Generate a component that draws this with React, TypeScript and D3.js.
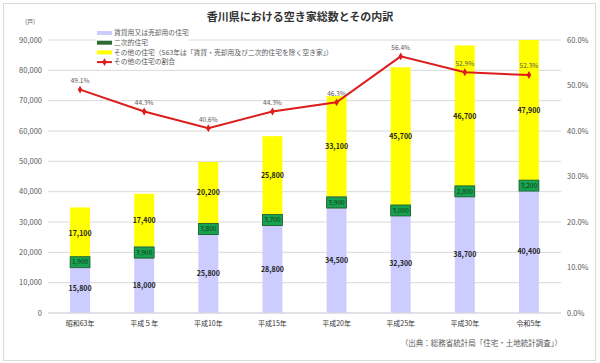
import * as d3 from "d3";

const categories = ["昭和63年", "平成５年", "平成10年", "平成15年", "平成20年", "平成25年", "平成30年", "令和5年"];
const rentalValues = [15800, 18000, 25800, 28800, 34500, 32300, 38700, 40400];
const secondaryValues = [1900, 3900, 3800, 3700, 3900, 3000, 2800, 3200];
const otherValues = [17100, 17400, 20200, 25800, 33100, 45700, 46700, 47900];
const otherRatio = [49.1, 44.3, 40.6, 44.3, 46.3, 56.4, 52.9, 52.3];
const leftTicks = [0, 10000, 20000, 30000, 40000, 50000, 60000, 70000, 80000, 90000];
const rightTicks = [0, 10, 20, 30, 40, 50, 60];
const legendLabels = [
  "賃貸用又は売却用の住宅",
  "二次的住宅",
  "その他の住宅（S63年は「賃貸・売却用及び二次的住宅を除く空き家」）",
  "その他の住宅の割合",
];

const W = 600;
const H = 363;
const margin = { top: 40, right: 39, bottom: 50, left: 48 };
const font = "'Noto Sans CJK JP', 'Noto Sans', sans-serif";

const colors = {
  rental: "#ccccff",
  secondary: "#2e6b35",
  secondaryBox: "#17a34f",
  other: "#ffff00",
  line: "#dd1c1c",
  grid: "#d9d9d9",
  axisText: "#595959",
};

export default function App() {
  const x = d3.scaleBand().domain(categories).range([margin.left, W - margin.right]);
  const y = d3.scaleLinear().domain([0, 90000]).range([H - margin.bottom, margin.top]);
  const yr = d3.scaleLinear().domain([0, 60]).range([H - margin.bottom, margin.top]);
  const barW = x.bandwidth() * 0.31;
  const cx = (c: string) => (x(c) ?? 0) + x.bandwidth() / 2;

  const rows = categories.map((c, i) => {
    const r0 = 0, r1 = rentalValues[i];
    const s1 = r1 + secondaryValues[i];
    const o1 = s1 + otherValues[i];
    return { c, i, r0, r1, s1, o1 };
  });

  const line = d3
    .line<number>()
    .x((_, i) => cx(categories[i]))
    .y((d) => yr(d));

  const fmt = d3.format(",");
  const yTop = margin.top;
  const clipY = (v: number) => Math.max(y(v), yTop);

  return (
    <svg width={W} height={H} style={{ position: "absolute", left: 0, top: 0, background: "#fff" }} fontFamily={font}>
      <rect x={3.5} y={3.5} width={592} height={357} fill="#fff" stroke="#d9d9d9" />
      <text x={300} y={21} textAnchor="middle" fontSize={11} fontWeight={700} fill="#333">
        香川県における空き家総数とその内訳
      </text>
      <text x={30} y={24} textAnchor="middle" fontSize={6} fill={colors.axisText}>(戸)</text>

      {leftTicks.map((t) => (
        <g key={t}>
          <line x1={margin.left} x2={W - margin.right} y1={y(t)} y2={y(t)} stroke={colors.grid} strokeWidth={1} />
          <text x={42} y={y(t)} dy="0.35em" textAnchor="end" fontSize={7.5} fill={colors.axisText}>
            {fmt(t)}
          </text>
        </g>
      ))}
      {rightTicks.map((t) => (
        <text key={t} x={567} y={yr(t)} dy="0.35em" fontSize={7.5} fill={colors.axisText}>
          {t.toFixed(1)}%
        </text>
      ))}

      {/* legend background over the gridline */}
      <rect x={96} y={28} width={93} height={38} fill="#fff" />

      {rows.map((d) => (
        <g key={d.c}>
          <rect x={cx(d.c) - barW / 2} y={y(d.r1)} width={barW} height={y(d.r0) - y(d.r1)} fill={colors.rental} />
          <rect x={cx(d.c) - barW / 2} y={y(d.s1)} width={barW} height={y(d.r1) - y(d.s1)} fill={colors.secondary} />
          <rect x={cx(d.c) - barW / 2} y={clipY(d.o1)} width={barW} height={y(d.s1) - clipY(d.o1)} fill={colors.other} />
        </g>
      ))}

      <line x1={margin.left} x2={W - margin.right} y1={y(0)} y2={y(0)} stroke={colors.grid} />

      {rows.map((d) => {
        const mid = (y(d.r1) + y(d.s1)) / 2;
        return (
          <g key={"lab" + d.c} fontSize={7} fontWeight={700}>
            <text x={cx(d.c)} y={(y(d.r0) + y(d.r1)) / 2} dy="0.35em" textAnchor="middle" fill="#222">
              {fmt(rentalValues[d.i])}
            </text>
            <text x={cx(d.c)} y={(y(d.s1) + clipY(d.o1)) / 2} dy="0.35em" textAnchor="middle" fill="#222">
              {fmt(otherValues[d.i])}
            </text>
            <rect x={cx(d.c) - barW / 2} y={mid - 5.5} width={barW} height={11} fill={colors.secondaryBox} stroke="#1f5a2c" strokeWidth={0.8} />
            <text x={cx(d.c)} y={mid} dy="0.35em" textAnchor="middle" fontSize={6.5} fontWeight={400} fill="#12331a">
              {fmt(secondaryValues[d.i])}
            </text>
          </g>
        );
      })}

      <path d={line(otherRatio) ?? ""} fill="none" stroke={colors.line} strokeWidth={2} />
      {otherRatio.map((v, i) => (
        <g key={"pt" + i}>
          <path
            d={d3.symbol(d3.symbolDiamond, 18)() ?? ""}
            transform={`translate(${cx(categories[i])},${yr(v)})`}
            fill={colors.line}
          />
          <text x={cx(categories[i])} y={yr(v) - 9} dy="0.35em" textAnchor="middle" fontSize={6.5} fill={colors.axisText}>
            {v.toFixed(1)}%
          </text>
        </g>
      ))}

      {categories.map((c) => (
        <text key={"cat" + c} x={cx(c)} y={324} dy="0.35em" textAnchor="middle" fontSize={7} fill="#333">
          {c}
        </text>
      ))}

      {legendLabels.map((l, i) => {
        const ly = 33 + i * 9.7;
        return (
          <g key={l}>
            {i < 3 ? (
              <rect x={97} y={ly - 2} width={15} height={4} fill={[colors.rental, colors.secondary, colors.other][i]} />
            ) : (
              <g>
                <line x1={97} x2={112} y1={ly} y2={ly} stroke={colors.line} strokeWidth={2} />
                <path d={d3.symbol(d3.symbolDiamond, 18)() ?? ""} transform={`translate(104.5,${ly})`} fill={colors.line} />
              </g>
            )}
            <text x={114} y={ly} dy="0.35em" fontSize={6.8} fill={colors.axisText}>
              {l}
            </text>
          </g>
        );
      })}

      <text x={562} y={343} dy="0.35em" textAnchor="end" fontSize={7.5} fill={colors.axisText}>
        （出典：総務省統計局「住宅・土地統計調査」）
      </text>
    </svg>
  );
}
